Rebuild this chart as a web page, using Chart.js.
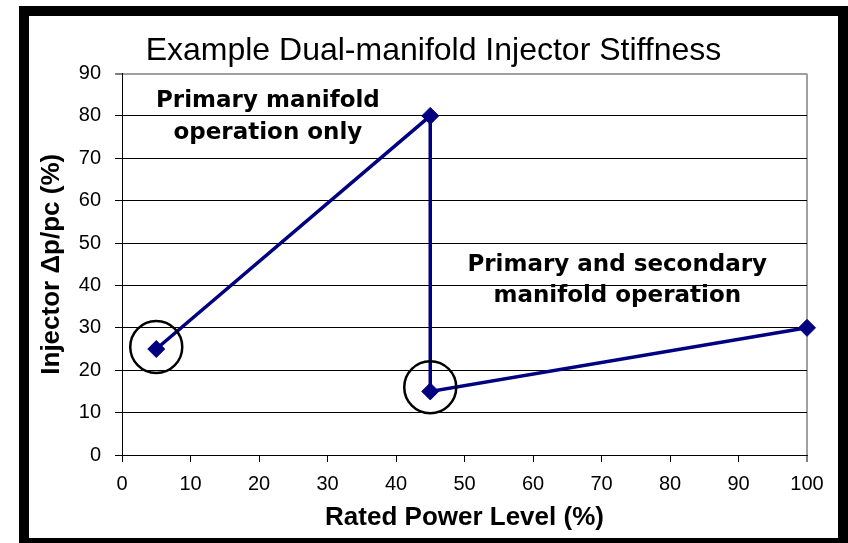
<!DOCTYPE html>
<html><head><meta charset="utf-8">
<script src="https://cdn.jsdelivr.net/npm/chart.js@4/dist/chart.umd.min.js"></script>
<style>
html,body{margin:0;padding:0;background:#fff;width:848px;height:543px;overflow:hidden}
#wrap{position:relative;width:848px;height:543px}
canvas{position:absolute;left:0;top:0}
#frame{position:absolute;left:19px;top:6px;width:809px;height:522px;border:10px solid #000;pointer-events:none}
</style></head><body>
<div id="wrap"><canvas id="c" width="848" height="543"></canvas><div id="frame"></div></div>
<script>
// Data
const powerLevel = [5, 45, 45, 100];          // Rated Power Level (%)
const stiffness  = [25, 80, 15, 30];          // Injector Δp/pc (%)
const circledX   = [5, 45];                   // highlighted points (circle centres)
const circledY   = [25.5, 16];
const noteText   = [["Primary manifold", "operation only"], ["Primary and secondary", "manifold operation"]];
const noteX      = [21.3, 72.3];
const noteY      = [[83.4, 76.0], [44.9, 37.6]];
const chartTitle = "Example Dual-manifold Injector Stiffness";
const xTitle     = "Rated Power Level (%)";
const yTitle     = "Injector \u0394p/pc (%)";

const navy = '#000080';
const notesPlugin = {
  id: 'notes',
  afterDatasetsDraw(chart) {
    const ctx = chart.ctx, xs = chart.scales.x, ys = chart.scales.y;
    ctx.save();
    ctx.fillStyle = '#000';
    ctx.font = 'bold 23px "DejaVu Sans"';
    ctx.textAlign = 'center';
    ctx.textBaseline = 'middle';
    noteText.forEach((lines, i) => {
      lines.forEach((t, j) => {
        ctx.fillText(t, xs.getPixelForValue(noteX[i]), ys.getPixelForValue(noteY[i][j]));
      });
    });
    ctx.restore();
  }
};

new Chart(document.getElementById('c'), {
  type: 'scatter',
  data: {
    datasets: [
      {
        data: powerLevel.map((x, i) => ({x, y: stiffness[i]})),
        showLine: true,
        borderColor: navy,
        borderWidth: 3.5,
        backgroundColor: navy,
        pointStyle: 'rectRot',
        pointRadius: 8.5,
        pointBorderWidth: 1,
        tension: 0,
        clip: false,
        order: 2
      },
      {
        data: circledX.map((x, i) => ({x, y: circledY[i]})),
        showLine: false,
        pointStyle: 'circle',
        pointRadius: 26,
        borderColor: '#000',
        backgroundColor: 'rgba(0,0,0,0)',
        pointBorderWidth: 2.5,
        clip: false,
        order: 1
      }
    ]
  },
  options: {
    responsive: false,
    animation: false,
    events: [],
    layout: { padding: { left: 29, right: 10, top: 16, bottom: 5 } },
    plugins: {
      legend: { display: false },
      tooltip: { enabled: false },
      title: {
        display: true,
        text: chartTitle,
        color: '#000',
        font: { family: '"Liberation Sans", Arial, sans-serif', size: 32, weight: 'normal' },
        padding: { top: 16, bottom: 3.1 }
      }
    },
    scales: {
      x: {
        type: 'linear', min: 0, max: 100,
        ticks: { stepSize: 10, color: '#000', padding: 10,
                 font: { family: '"Liberation Sans", Arial, sans-serif', size: 20 } },
        grid: {
          color: c => (c.tick && c.tick.value === 100) ? '#a0a0a0' : 'rgba(0,0,0,0)',
          lineWidth: c => (c.tick && c.tick.value === 100) ? 2 : 1,
          tickColor: '#000', tickLength: 7, tickWidth: 1
        },
        border: { color: '#000', width: 1 },
        title: { display: true, text: xTitle, color: '#000',
                 font: { family: '"Liberation Sans", Arial, sans-serif', size: 26, weight: 'bold' },
                 padding: { top: 0, bottom: 4.4 } },
        afterFit: s => { s.height = 83; }
      },
      y: {
        type: 'linear', min: 0, max: 90,
        ticks: { stepSize: 10, color: '#000', padding: 14,
                 font: { family: '"Liberation Sans", Arial, sans-serif', size: 20 } },
        grid: {
          color: c => (c.tick && c.tick.value === 90) ? '#a0a0a0' : '#000',
          lineWidth: c => (c.tick && c.tick.value === 90) ? 2 : 1,
          tickColor: '#000', tickLength: 7, tickWidth: 1
        },
        border: { color: '#000', width: 1 },
        title: { display: true, text: yTitle, color: '#000',
                 font: { family: '"Liberation Sans", Arial, sans-serif', size: 26, weight: 'bold' },
                 padding: { top: 7.4, bottom: 0 } },
        afterFit: s => { s.width = 93; }
      },
      yR: {
        type: 'linear', position: 'right', min: 0, max: 90, display: true,
        grid: { display: false }, ticks: { display: false }, border: { display: false },
        afterFit: s => { s.width = 31; }
      }
    }
  },
  plugins: [notesPlugin]
});
</script>
</body></html>
